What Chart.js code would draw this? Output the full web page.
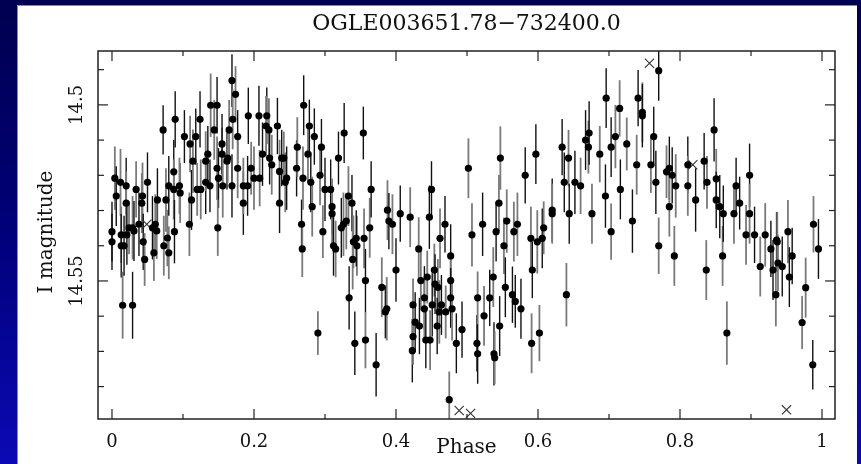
<!DOCTYPE html>
<html><head><meta charset="utf-8">
<script src="https://cdn.jsdelivr.net/npm/chart.js@4/dist/chart.umd.min.js"></script>
<style>html,body{margin:0;padding:0;background:#000060;overflow:hidden}
#wrap{position:absolute;left:0;top:0;width:861px;height:464px}</style>
</head><body><div id="wrap"><canvas id="c" width="861" height="464"></canvas></div>
<script>
const titleText = "OGLE003651.78\u2212732400.0";
const xAxisLabel = "Phase";
const yAxisLabel = "I magnitude";
const xMajorTicks = [0, 0.2, 0.4, 0.6, 0.8, 1];
const xTickLabels = ["0", "0.2", "0.4", "0.6", "0.8", "1"];
const xMinorTicks = [0.1, 0.3, 0.5, 0.7, 0.9];
const yMajorTicks = [14.5, 14.55];
const yTickLabels = ["14.5", "14.55"];
const yMinorTicks = [14.49, 14.51, 14.52, 14.53, 14.54, 14.56, 14.57, 14.58];

const phase = [
0.000,0.000,0.004,0.006,0.012,0.013,0.013,0.015,0.017,0.020,
0.020,0.021,0.024,0.029,0.029,0.031,0.034,0.038,0.042,0.043,
0.044,0.046,0.050,0.057,0.059,0.061,0.064,0.063,0.072,0.073,
0.076,0.078,0.080,0.080,0.087,0.087,0.089,0.088,0.095,0.096,
0.102,0.109,0.110,0.112,0.114,0.118,0.120,0.125,0.124,0.132,
0.132,0.135,0.138,0.139,0.144,0.148,0.148,0.150,0.149,0.155,
0.155,0.156,0.162,0.163,0.165,0.169,0.169,0.170,0.174,0.177,
0.177,0.185,0.185,0.191,0.192,0.196,0.200,0.207,0.208,0.212,
0.218,0.217,0.221,0.222,0.225,0.233,0.236,0.236,0.239,0.242,
0.244,0.246,0.260,0.261,0.267,0.268,0.269,0.270,0.276,0.278,
0.280,0.282,0.285,0.290,0.293,0.295,0.297,0.300,0.308,0.310,
0.310,0.312,0.315,0.319,0.323,0.326,0.327,0.330,0.333,0.334,
0.338,0.339,0.340,0.342,0.345,0.344,0.354,0.355,0.357,0.357,
0.363,0.365,0.372,0.380,0.385,0.387,0.388,0.390,0.395,0.400,
0.406,0.420,0.423,0.424,0.424,0.427,0.432,0.433,0.435,0.440,
0.440,0.442,0.444,0.447,0.448,0.450,0.451,0.454,0.455,0.459,
0.458,0.462,0.461,0.464,0.469,0.470,0.475,0.477,0.477,0.477,
0.479,0.485,0.493,0.502,0.507,0.514,0.515,0.515,0.522,0.524,
0.532,0.537,0.538,0.539,0.541,0.545,0.547,0.546,0.552,0.554,
0.556,0.564,0.566,0.568,0.571,0.576,0.582,0.590,0.591,0.592,
0.597,0.599,0.602,0.606,0.608,0.620,0.620,0.634,0.637,0.640,
0.643,0.644,0.652,0.660,0.667,0.671,0.672,0.676,0.687,0.696,
0.695,0.703,0.703,0.709,0.715,0.716,0.725,0.733,0.739,0.741,
0.747,0.747,0.759,0.763,0.766,0.770,0.770,0.781,0.785,0.785,
0.789,0.792,0.794,0.811,0.811,0.822,0.834,0.837,0.838,0.848,
0.851,0.851,0.856,0.860,0.861,0.866,0.876,0.879,0.884,0.893,
0.898,0.898,0.905,0.913,0.920,0.928,0.931,0.935,0.936,0.937,
0.938,0.944,0.952,0.954,0.958,0.972,0.977,0.987,0.988,0.995
];
const mag = [
14.5360,14.5389,14.5208,14.5259,14.5220,14.5369,14.5400,14.5569,14.5400,14.5230,
14.5279,14.5369,14.5349,14.5349,14.5569,14.5358,14.5240,14.5339,14.5279,14.5259,
14.5389,14.5439,14.5220,14.5349,14.5420,14.5339,14.5270,14.5358,14.5071,14.5400,
14.5270,14.5378,14.5230,14.5420,14.5190,14.5240,14.5041,14.5360,14.5230,14.5250,
14.5090,14.5339,14.5111,14.5270,14.5160,14.5090,14.5240,14.5240,14.5041,14.5220,
14.5160,14.5140,14.5230,14.5001,14.5071,14.5001,14.5180,14.5208,14.5349,14.5140,
14.5111,14.5230,14.5160,14.5151,14.5071,14.4931,14.5230,14.5041,14.4970,14.5090,
14.5180,14.5279,14.5230,14.5230,14.5031,14.5180,14.5208,14.5031,14.5208,14.5140,
14.5031,14.5060,14.5071,14.5151,14.5170,14.5060,14.5189,14.5279,14.5151,14.5151,
14.5220,14.5208,14.5180,14.5120,14.5339,14.5409,14.5208,14.5001,14.5140,14.5060,
14.5220,14.5289,14.5090,14.5648,14.5200,14.5120,14.5360,14.5240,14.5240,14.5289,
14.5309,14.5400,14.5409,14.5151,14.5349,14.5339,14.5080,14.5330,14.5259,14.5548,
14.5279,14.5439,14.5389,14.5677,14.5400,14.5379,14.5080,14.5379,14.5499,14.5668,
14.5349,14.5240,14.5738,14.5518,14.5588,14.5579,14.5299,14.5330,14.5339,14.5469,
14.5309,14.5319,14.5698,14.5658,14.5568,14.5617,14.5409,14.5628,14.5499,14.5548,
14.5579,14.5668,14.5489,14.5319,14.5668,14.5240,14.5568,14.5469,14.5509,14.5518,
14.5628,14.5379,14.5588,14.5568,14.5339,14.5588,14.5837,14.5429,14.5499,14.5548,
14.5579,14.5677,14.5638,14.5180,14.5369,14.5677,14.5707,14.5548,14.5339,14.5599,
14.5548,14.5489,14.5707,14.5718,14.5360,14.5279,14.5151,14.5628,14.5400,14.5518,
14.5330,14.5539,14.5360,14.5558,14.5339,14.5579,14.5200,14.5379,14.5677,14.5469,
14.5140,14.5389,14.5648,14.5379,14.5349,14.5299,14.5309,14.5120,14.5220,14.5539,
14.5151,14.5309,14.5220,14.5230,14.5100,14.5120,14.5080,14.5309,14.5140,14.4981,
14.5259,14.5360,14.5120,14.5090,14.5010,14.5240,14.5111,14.5330,14.5170,14.4981,
14.5021,14.5031,14.5170,14.5090,14.5220,14.5400,14.4903,14.5190,14.5180,14.5289,
14.5200,14.5429,14.5230,14.5170,14.5230,14.5270,14.5160,14.5469,14.5220,14.5071,
14.5210,14.5270,14.5289,14.5429,14.5309,14.5648,14.5309,14.5230,14.5279,14.5369,
14.5200,14.5309,14.5369,14.5459,14.5369,14.5409,14.5469,14.5539,14.5384,14.5389,
14.5449,14.5459,14.5360,14.5489,14.5429,14.5618,14.5519,14.5738,14.5339,14.5409
];
const magErr = [
0.0085,0.0080,0.0090,0.0085,0.0095,0.0080,0.0090,0.0095,0.0085,0.0080,
0.0090,0.0085,0.0075,0.0090,0.0095,0.0085,0.0080,0.0090,0.0085,0.0095,
0.0080,0.0075,0.0085,0.0090,0.0080,0.0085,0.0090,0.0080,0.0070,0.0085,
0.0090,0.0080,0.0085,0.0075,0.0090,0.0085,0.0080,0.0090,0.0080,0.0085,
0.0075,0.0090,0.0080,0.0085,0.0090,0.0080,0.0075,0.0085,0.0080,0.0090,
0.0085,0.0080,0.0075,0.0090,0.0085,0.0080,0.0090,0.0085,0.0080,0.0075,
0.0085,0.0090,0.0080,0.0070,0.0085,0.0075,0.0090,0.0085,0.0080,0.0075,
0.0085,0.0090,0.0080,0.0085,0.0080,0.0075,0.0090,0.0085,0.0080,0.0090,
0.0080,0.0085,0.0090,0.0075,0.0085,0.0080,0.0090,0.0085,0.0080,0.0075,
0.0085,0.0090,0.0080,0.0085,0.0070,0.0080,0.0090,0.0085,0.0080,0.0075,
0.0085,0.0085,0.0080,0.0062,0.0085,0.0080,0.0075,0.0090,0.0085,0.0080,
0.0090,0.0085,0.0080,0.0075,0.0085,0.0090,0.0085,0.0080,0.0085,0.0090,
0.0080,0.0085,0.0075,0.0090,0.0085,0.0080,0.0075,0.0085,0.0090,0.0080,
0.0085,0.0080,0.0090,0.0085,0.0075,0.0090,0.0085,0.0080,0.0085,0.0090,
0.0080,0.0085,0.0090,0.0080,0.0075,0.0085,0.0090,0.0080,0.0085,0.0090,
0.0085,0.0080,0.0075,0.0090,0.0085,0.0080,0.0090,0.0075,0.0085,0.0080,
0.0080,0.0085,0.0090,0.0085,0.0080,0.0075,0.0080,0.0090,0.0080,0.0085,
0.0090,0.0085,0.0080,0.0085,0.0090,0.0080,0.0085,0.0075,0.0090,0.0085,
0.0080,0.0085,0.0090,0.0075,0.0085,0.0080,0.0090,0.0085,0.0080,0.0085,
0.0090,0.0080,0.0085,0.0075,0.0090,0.0085,0.0080,0.0090,0.0085,0.0080,
0.0085,0.0090,0.0080,0.0085,0.0075,0.0090,0.0085,0.0080,0.0085,0.0090,
0.0080,0.0085,0.0090,0.0080,0.0085,0.0075,0.0090,0.0085,0.0080,0.0085,
0.0090,0.0080,0.0085,0.0090,0.0080,0.0085,0.0075,0.0090,0.0085,0.0080,
0.0085,0.0090,0.0080,0.0085,0.0090,0.0080,0.0085,0.0075,0.0090,0.0085,
0.0080,0.0085,0.0090,0.0080,0.0085,0.0090,0.0080,0.0085,0.0075,0.0090,
0.0085,0.0080,0.0090,0.0085,0.0080,0.0090,0.0085,0.0080,0.0075,0.0085,
0.0090,0.0085,0.0080,0.0085,0.0090,0.0080,0.0085,0.0090,0.0080,0.0085,
0.0080,0.0085,0.0090,0.0085,0.0080,0.0075,0.0085,0.0070,0.0080,0.0085
];
const barShade =
"0010110100"+"1011001011"+"0100110101"+"1101010011"+"0110101100"+
"1001101011"+"0101100110"+"1010011010"+"0110101001"+"1001011010"+
"0101101001"+"1010010110"+"0110100101"+"1001011010"+"0101101010"+
"1010100101"+"0110011010"+"1001100101"+"0101011010"+"1010100110"+
"0110101001"+"1001010110"+"0101101010"+"1010010101"+"0110100110"+
"1001011001"+"0101100101"+"1010011010";

const crossPhase = [0.049, 0.489, 0.505, 0.757, 0.818, 0.950];
const crossMag   = [14.5339, 14.5868, 14.5876, 14.4882, 14.5170, 14.5866];

const PANEL = {l: 17, t: 5, r: 857, b: 464};

const bgPlugin = {
  id: 'bg',
  beforeDraw(chart) {
    const ctx = chart.ctx, W = chart.width, H = chart.height;
    ctx.save();
    const g = ctx.createLinearGradient(0, 0, 0, H);
    g.addColorStop(0, '#000050');
    g.addColorStop(0.5, '#00007a');
    g.addColorStop(1, '#0a0ab4');
    ctx.fillStyle = g;
    ctx.fillRect(0, 0, W, H);
    ctx.fillStyle = '#ffffff';
    ctx.fillRect(PANEL.l, PANEL.t, PANEL.r - PANEL.l, PANEL.b - PANEL.t);
    ctx.strokeStyle = '#8a8a9a';
    ctx.lineWidth = 1;
    ctx.beginPath();
    ctx.moveTo(PANEL.l + 0.5, PANEL.b); ctx.lineTo(PANEL.l + 0.5, PANEL.t + 0.5); ctx.lineTo(PANEL.r, PANEL.t + 0.5);
    ctx.stroke();
    ctx.restore();
  }
};

const errPlugin = {
  id: 'errbars',
  beforeDatasetsDraw(chart) {
    const ctx = chart.ctx, xs = chart.scales.x, ys = chart.scales.y, a = chart.chartArea;
    ctx.save();
    ctx.beginPath(); ctx.rect(a.left, a.top, a.right - a.left, a.bottom - a.top); ctx.clip();
    for (let i = 0; i < phase.length; i++) {
      const e = magErr[i] !== undefined ? magErr[i] : 0.008;
      const x = xs.getPixelForValue(phase[i]);
      const y1 = ys.getPixelForValue(mag[i] - e);
      const y2 = ys.getPixelForValue(mag[i] + e);
      const gray = barShade[i] === '1';
      ctx.strokeStyle = gray ? '#7a7a7a' : '#111111';
      ctx.lineWidth = gray ? 1.8 : 1.4;
      ctx.beginPath(); ctx.moveTo(x, y1); ctx.lineTo(x, y2); ctx.stroke();
    }
    ctx.restore();
  }
};

const framePlugin = {
  id: 'frame',
  afterDraw(chart) {
    const ctx = chart.ctx, xs = chart.scales.x, ys = chart.scales.y, a = chart.chartArea;
    ctx.save();
    ctx.strokeStyle = '#222';
    ctx.lineWidth = 1.5;
    ctx.strokeRect(a.left, a.top, a.right - a.left, a.bottom - a.top);
    ctx.lineWidth = 1.2;
    ctx.strokeStyle = '#222';
    const tick = (x1, y1, x2, y2) => { ctx.beginPath(); ctx.moveTo(x1, y1); ctx.lineTo(x2, y2); ctx.stroke(); };
    const MAJ = 10, MIN = 5;
    xMajorTicks.forEach(v => { const x = xs.getPixelForValue(v); tick(x, a.bottom, x, a.bottom - MAJ); tick(x, a.top, x, a.top + MAJ); });
    xMinorTicks.forEach(v => { const x = xs.getPixelForValue(v); tick(x, a.bottom, x, a.bottom - MIN); tick(x, a.top, x, a.top + MIN); });
    yMajorTicks.forEach(v => { const y = ys.getPixelForValue(v); tick(a.left, y, a.left + MAJ, y); tick(a.right, y, a.right - MAJ, y); });
    yMinorTicks.forEach(v => { const y = ys.getPixelForValue(v); tick(a.left, y, a.left + MIN + 1, y); tick(a.right, y, a.right - MIN - 1, y); });

    ctx.fillStyle = '#111';
    ctx.font = '18px "DejaVu Serif"';
    ctx.textAlign = 'center';
    ctx.textBaseline = 'alphabetic';
    xMajorTicks.forEach((v, i) => ctx.fillText(xTickLabels[i], xs.getPixelForValue(v), 447));
    yMajorTicks.forEach((v, i) => {
      ctx.save();
      ctx.translate(82, ys.getPixelForValue(v));
      ctx.rotate(-Math.PI / 2);
      ctx.fillText(yTickLabels[i], 0, 0);
      ctx.restore();
    });
    ctx.font = '20px "DejaVu Serif"';
    ctx.fillText(xAxisLabel, (a.left + a.right) / 2, 453);
    ctx.save();
    ctx.translate(52, 232);
    ctx.rotate(-Math.PI / 2);
    ctx.fillText(yAxisLabel, 0, 0);
    ctx.restore();
    ctx.font = '22px "DejaVu Serif"';
    ctx.fillText(titleText, (a.left + a.right) / 2, 30);
    ctx.restore();
  }
};

new Chart(document.getElementById('c'), {
  type: 'scatter',
  data: {
    datasets: [
      {
        label: 'I',
        data: phase.map((p, i) => ({x: p, y: mag[i]})),
        pointRadius: 3.6,
        pointBackgroundColor: '#000',
        pointBorderWidth: 0,
        showLine: false
      },
      {
        label: 'rejected',
        data: crossPhase.map((p, i) => ({x: p, y: crossMag[i]})),
        pointStyle: 'crossRot',
        pointRadius: 6.5,
        pointBorderColor: '#333',
        pointBorderWidth: 1.1,
        showLine: false
      }
    ]
  },
  options: {
    responsive: false,
    devicePixelRatio: 1,
    animation: false,
    layout: {padding: {left: 98, right: 26, top: 51, bottom: 45}},
    plugins: {legend: {display: false}, tooltip: {enabled: false}, title: {display: false}},
    scales: {
      x: {type: 'linear', min: -0.0197, max: 1.0183, display: false},
      y: {type: 'linear', reverse: true, min: 14.4847, max: 14.5892, display: false}
    }
  },
  plugins: [bgPlugin, errPlugin, framePlugin]
});
</script>
</body></html>
